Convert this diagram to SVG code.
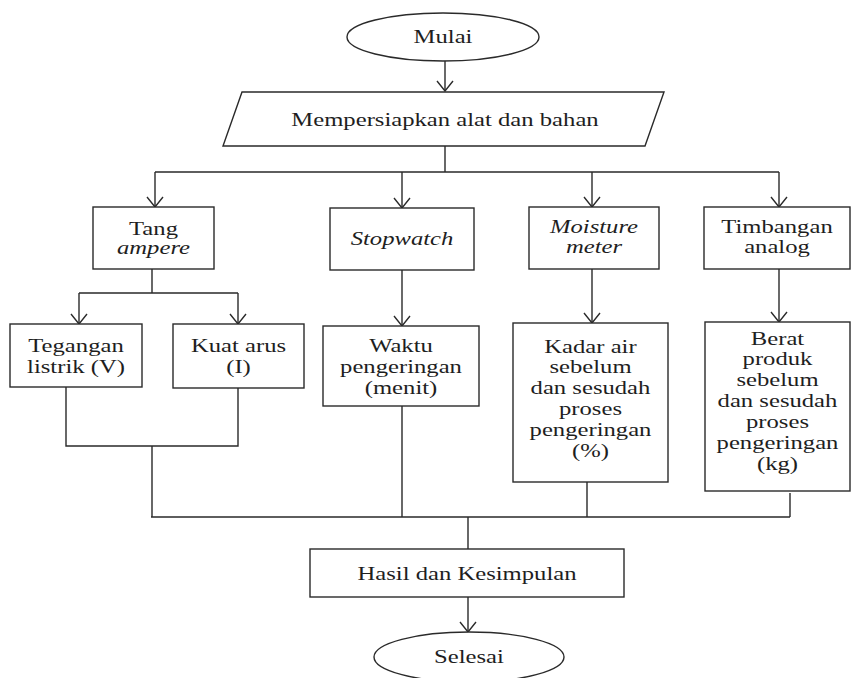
<svg xmlns="http://www.w3.org/2000/svg" width="851" height="678" viewBox="0 0 851 678">
<style>
.sh{fill:#fff;stroke:#2a2a2a;stroke-width:1.4}
.t{font-family:"Liberation Serif","Times New Roman",serif;font-size:18px;fill:#1e1e1e;text-anchor:middle}
.i{font-style:italic}
.c{fill:none;stroke:#2a2a2a;stroke-width:1.4}
</style>
<defs>
<marker id="ah" viewBox="0 0 20 14" refX="10" refY="13" markerWidth="20" markerHeight="14" markerUnits="userSpaceOnUse" orient="0">
<path d="M2,3 L10,13 L18,3" fill="none" stroke="#2a2a2a" stroke-width="1.4"/>
</marker>
</defs>
<rect width="851" height="678" fill="#fff"/>
<g id="connectors">
<path class="c" d="M445,61 V91" marker-end="url(#ah)"/>
<path class="c" d="M445,146 V172 M155,172 H779"/>
<path class="c" d="M155,172 V207" marker-end="url(#ah)"/>
<path class="c" d="M402,172 V208" marker-end="url(#ah)"/>
<path class="c" d="M592,172 V207" marker-end="url(#ah)"/>
<path class="c" d="M779,172 V207" marker-end="url(#ah)"/>
<path class="c" d="M152,269 V293 M79,293 H238"/>
<path class="c" d="M79,293 V324" marker-end="url(#ah)"/>
<path class="c" d="M238,293 V324" marker-end="url(#ah)"/>
<path class="c" d="M402,270 V326" marker-end="url(#ah)"/>
<path class="c" d="M592,269 V323" marker-end="url(#ah)"/>
<path class="c" d="M779,269 V322" marker-end="url(#ah)"/>
<path class="c" d="M66,387 V446 H238 V388 M152,446 V517"/>
<path class="c" d="M402,406 V517 M587,482 V517 M790,493 V517 M151,517 H790 M468,517 V549"/>
<path class="c" d="M468,597 V632" marker-end="url(#ah)"/>
</g>
<g id="mulai">
<ellipse class="sh" cx="443" cy="37" rx="96" ry="24"/>
<g transform="translate(443,0) scale(1.37,1)"><text class="t" x="0" y="43">Mulai</text></g>
</g>
<g id="persiapan">
<polygon class="sh" points="242,92 664,92 645,146 223,146"/>
<g transform="translate(445,0) scale(1.37,1)"><text class="t" x="0" y="126">Mempersiapkan alat dan bahan</text></g>
</g>
<g id="tang">
<rect class="sh" x="93" y="207" width="121" height="62"/>
<g transform="translate(153.5,0) scale(1.37,1)"><text class="t" x="0" y="235">Tang</text><text class="t i" x="0" y="254">ampere</text></g>
</g>
<g id="stopwatch">
<rect class="sh" x="330" y="208" width="144" height="62"/>
<g transform="translate(402,0) scale(1.37,1)"><text class="t i" x="0" y="245">Stopwatch</text></g>
</g>
<g id="moisture">
<rect class="sh" x="529" y="207" width="130" height="62"/>
<g transform="translate(594,0) scale(1.37,1)"><text class="t i" x="0" y="233">Moisture</text><text class="t i" x="0" y="253">meter</text></g>
</g>
<g id="timbangan">
<rect class="sh" x="704" y="207" width="146" height="62"/>
<g transform="translate(777,0) scale(1.37,1)"><text class="t" x="0" y="233">Timbangan</text><text class="t" x="0" y="253">analog</text></g>
</g>
<g id="tegangan">
<rect class="sh" x="10" y="324" width="132" height="63"/>
<g transform="translate(76,0) scale(1.37,1)"><text class="t" x="0" y="352">Tegangan</text><text class="t" x="0" y="373">listrik (V)</text></g>
</g>
<g id="kuat-arus">
<rect class="sh" x="173" y="324" width="131" height="64"/>
<g transform="translate(238.5,0) scale(1.37,1)"><text class="t" x="0" y="352">Kuat arus</text><text class="t" x="0" y="373">(I)</text></g>
</g>
<g id="waktu">
<rect class="sh" x="323" y="326" width="156" height="80"/>
<g transform="translate(401,0) scale(1.37,1)"><text class="t" x="0" y="352">Waktu</text><text class="t" x="0" y="373">pengeringan</text><text class="t" x="0" y="394">(menit)</text></g>
</g>
<g id="kadar-air">
<rect class="sh" x="513" y="323" width="155" height="159"/>
<g transform="translate(590.5,0) scale(1.37,1)"><text class="t" x="0" y="353">Kadar air</text><text class="t" x="0" y="373">sebelum</text><text class="t" x="0" y="394">dan sesudah</text><text class="t" x="0" y="415">proses</text><text class="t" x="0" y="436">pengeringan</text><text class="t" x="0" y="457">(%)</text></g>
</g>
<g id="berat">
<rect class="sh" x="705" y="322" width="145" height="169"/>
<g transform="translate(777.5,0) scale(1.37,1)"><text class="t" x="0" y="345">Berat</text><text class="t" x="0" y="365">produk</text><text class="t" x="0" y="386">sebelum</text><text class="t" x="0" y="407">dan sesudah</text><text class="t" x="0" y="428">proses</text><text class="t" x="0" y="449">pengeringan</text><text class="t" x="0" y="470">(kg)</text></g>
</g>
<g id="hasil">
<rect class="sh" x="310" y="549" width="314" height="48"/>
<g transform="translate(467,0) scale(1.37,1)"><text class="t" x="0" y="580">Hasil dan Kesimpulan</text></g>
</g>
<g id="selesai">
<ellipse class="sh" cx="469" cy="657" rx="95" ry="25"/>
<g transform="translate(469,0) scale(1.37,1)"><text class="t" x="0" y="663">Selesai</text></g>
</g>
</svg>
